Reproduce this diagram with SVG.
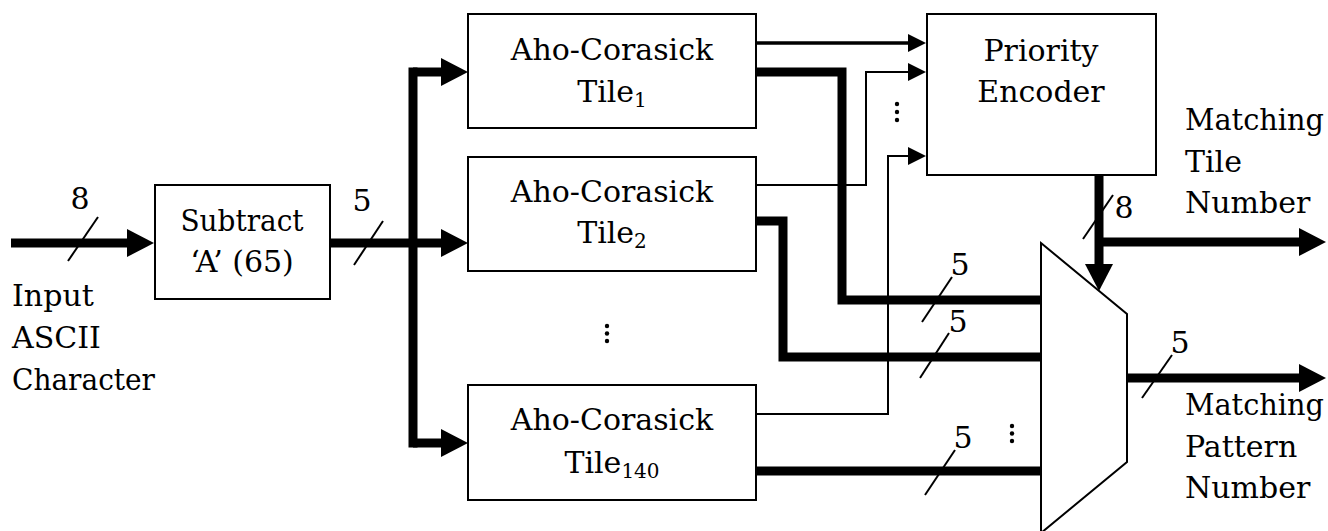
<svg xmlns="http://www.w3.org/2000/svg" width="1328" height="531" viewBox="0 0 1328 531">
<style>
text{font-family:'DejaVu Serif',serif;font-size:30px;fill:#000}
.c{text-anchor:middle}
.sub{font-size:20px}
.box{fill:#fff;stroke:#000;stroke-width:2}
.thick{fill:none;stroke:#000;stroke-width:9;stroke-linejoin:miter}
.thin{fill:none;stroke:#000;stroke-width:2}
.thin3{fill:none;stroke:#000;stroke-width:3.5}
.slash{stroke:#000;stroke-width:2}
.dot{fill:#000}
</style>
<defs>
<marker id="big" markerUnits="userSpaceOnUse" viewBox="0 0 27 28" refX="1" refY="14" markerWidth="27" markerHeight="28" orient="auto"><path d="M0,0 L27,14 L0,28 z" fill="#000"/></marker>
<marker id="small" markerUnits="userSpaceOnUse" viewBox="0 0 18 18" refX="1" refY="9" markerWidth="18" markerHeight="18" orient="auto"><path d="M0,0 L18,9 L0,18 z" fill="#000"/></marker>
</defs>
<rect width="1328" height="531" fill="#fff"/>
<g id="connectors">
<path class="thick" d="M11,243 H128" marker-end="url(#big)"/>
<path class="thick" d="M330,243 H442" marker-end="url(#big)"/>
<path class="thick" d="M413,72 V443" style="stroke-linecap:square"/>
<path class="thick" d="M413,72 H442" marker-end="url(#big)"/>
<path class="thick" d="M413,443 H442" marker-end="url(#big)"/>
<path class="thin3" d="M756,43 H909" marker-end="url(#small)"/>
<path class="thin" d="M756,185 H866 V72 H909" marker-end="url(#small)"/>
<path class="thin" d="M756,414 H888 V156 H909" marker-end="url(#small)"/>
<path class="thick" d="M756,72 H842 V300 H1041"/>
<path class="thick" d="M756,221 H783 V357 H1041"/>
<path class="thick" d="M756,471 H1041"/>
<path class="thick" d="M1099,175 V265" marker-end="url(#big)"/>
<path class="thick" d="M1099,242 H1300" marker-end="url(#big)"/>
<path class="thick" d="M1127,378 H1300" marker-end="url(#big)"/>
<line class="slash" x1="68" y1="261" x2="98" y2="217"/>
<line class="slash" x1="354" y1="265" x2="383" y2="221"/>
<line class="slash" x1="1083" y1="239" x2="1113" y2="195"/>
<line class="slash" x1="922" y1="322" x2="952" y2="277"/>
<line class="slash" x1="920" y1="378" x2="949" y2="333"/>
<line class="slash" x1="925" y1="495" x2="955" y2="450"/>
<line class="slash" x1="1142" y1="398" x2="1172" y2="355"/>
<text class="c" x="80" y="209">8</text>
<text class="c" x="362" y="211">5</text>
<text class="c" x="1124" y="218">8</text>
<text class="c" x="960" y="275">5</text>
<text class="c" x="958" y="332">5</text>
<text class="c" x="963" y="448">5</text>
<text class="c" x="1180" y="353">5</text>
</g>
<g id="subtract">
<rect class="box" x="155" y="185" width="175" height="114"/>
<text class="c" x="242" y="231" textLength="123" lengthAdjust="spacingAndGlyphs">Subtract</text>
<text class="c" x="242" y="272">‘A’ (65)</text>
</g>
<g id="tile1">
<rect class="box" x="468" y="14" width="288" height="114"/>
<text class="c" x="612" y="60">Aho-Corasick</text>
<text class="c" x="612" y="102">Tile<tspan class="sub" dy="5">1</tspan></text>
</g>
<g id="tile2">
<rect class="box" x="468" y="157" width="288" height="114"/>
<text class="c" x="612" y="202">Aho-Corasick</text>
<text class="c" x="612" y="243">Tile<tspan class="sub" dy="5">2</tspan></text>
</g>
<g id="tile-dots">
<circle class="dot" cx="607" cy="326" r="2.2"/>
<circle class="dot" cx="607" cy="333.5" r="2.2"/>
<circle class="dot" cx="607" cy="341" r="2.2"/>
</g>
<g id="tile140">
<rect class="box" x="468" y="385" width="288" height="115"/>
<text class="c" x="612" y="430">Aho-Corasick</text>
<text class="c" x="612" y="473">Tile<tspan class="sub" dy="5">140</tspan></text>
</g>
<g id="priority-encoder">
<rect class="box" x="927" y="14" width="229" height="161"/>
<text class="c" x="1041" y="61">Priority</text>
<text class="c" x="1041" y="102">Encoder</text>
</g>
<g id="pe-dots">
<circle class="dot" cx="897" cy="104" r="2.2"/>
<circle class="dot" cx="897" cy="112" r="2.2"/>
<circle class="dot" cx="897" cy="120" r="2.2"/>
</g>
<g id="mux">
<polygon points="1041,243 1127,314 1127,462 1041,533" fill="#fff" stroke="#000" stroke-width="2"/>
</g>
<g id="mux-dots">
<circle class="dot" cx="1012" cy="426" r="2.2"/>
<circle class="dot" cx="1012" cy="433.5" r="2.2"/>
<circle class="dot" cx="1012" cy="441" r="2.2"/>
</g>
<g id="input-label">
<text x="12" y="306">Input</text>
<text x="12" y="348">ASCII</text>
<text x="12" y="390" textLength="143" lengthAdjust="spacingAndGlyphs">Character</text>
</g>
<g id="tile-number-label">
<text x="1185" y="130" textLength="139" lengthAdjust="spacingAndGlyphs">Matching</text>
<text x="1185" y="172">Tile</text>
<text x="1185" y="213">Number</text>
</g>
<g id="pattern-number-label">
<text x="1185" y="415" textLength="139" lengthAdjust="spacingAndGlyphs">Matching</text>
<text x="1185" y="457">Pattern</text>
<text x="1185" y="498">Number</text>
</g>
</svg>
